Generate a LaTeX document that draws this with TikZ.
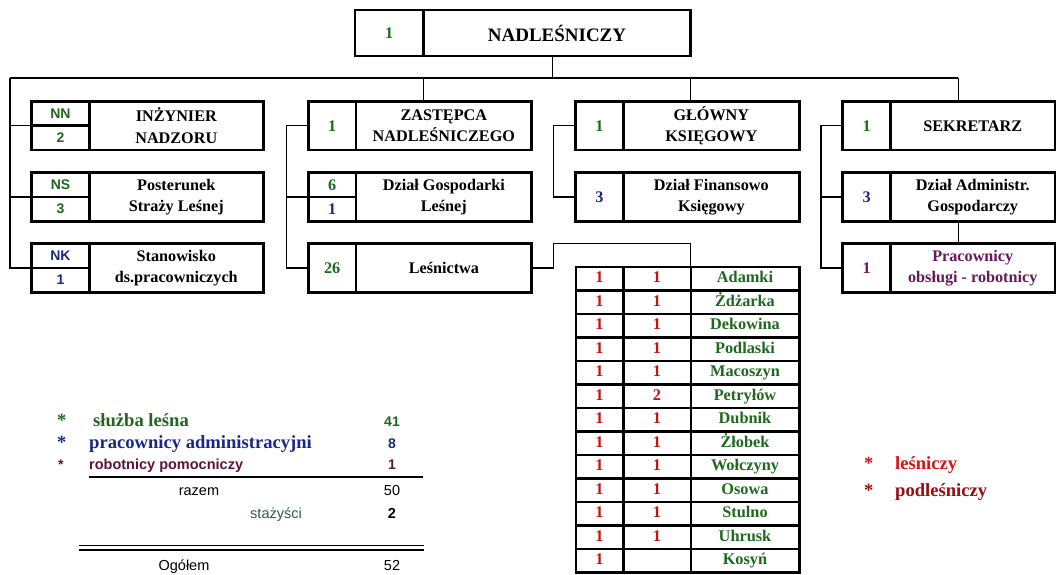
\documentclass[tikz,border=0pt]{standalone}
\usepackage{fontspec}
\setmainfont{Liberation Serif}
\setsansfont{Liberation Sans}
\usetikzlibrary{calc}
\definecolor{grn}{RGB}{30,105,30}
\definecolor{blu}{RGB}{25,40,135}
\definecolor{pur}{RGB}{105,25,90}
\definecolor{mar}{RGB}{95,20,55}
\definecolor{lred}{RGB}{215,20,20}
\definecolor{dred}{RGB}{150,15,15}
\definecolor{tgrn}{RGB}{40,95,70}
\definecolor{tred}{RGB}{195,20,20}
\newcommand{\bxf}{\fontsize{16.2}{21.5}\selectfont\bfseries}
\newcommand{\ttlf}{\fontsize{19}{22}\selectfont\bfseries}
\newcommand{\sbf}{\sffamily\fontsize{14}{16}\selectfont\bfseries}
\newcommand{\tbf}{\fontsize{16.3}{18}\selectfont\bfseries}
\newcommand{\lgs}{\fontsize{18.6}{20}\selectfont\bfseries}
\newcommand{\lgsans}{\sffamily\fontsize{14.5}{16}\selectfont}
\begin{document}
\begin{tikzpicture}[x=1pt,y=-1pt,
  cell/.style={draw, line width=2.7pt, inner sep=0pt, outer sep=0pt, align=center, font=\bxf},
  ncell/.style={cell, font=\sbf},
  tcell/.style={draw, line width=2.4pt, inner sep=0pt, outer sep=0pt, minimum height=23.5, text height=11pt, text depth=3.2pt, font=\tbf},
  conn/.style={line width=1.3pt},
  bus/.style={line width=1.9pt},
  lg/.style={inner sep=0pt, anchor=base west},
  lgn/.style={inner sep=0pt, anchor=base}]
\useasboundingbox (0,0) rectangle (1058,574);
\fill[white] (0,0) rectangle (1058,574);

% top box
\node[cell,minimum width=68.3,minimum height=46] (nadlN) at (389.15,33) {\color{grn}1};
\node[cell,minimum width=267.4,minimum height=46,font=\ttlf] (nadlT) at (557,33) {NADLEŚNICZY};

% column A
\node[ncell,minimum width=57.6,minimum height=24.25] (nnA) at (60.5,113.625) {\color{grn}NN};
\node[ncell,minimum width=57.6,minimum height=24.25] (nnB) at (60.5,137.875) {\color{grn}2};
\node[cell,minimum width=174,minimum height=48.5] (nnT) at (176.3,125.75) {INŻYNIER\\NADZORU};
\node[ncell,minimum width=57.6,minimum height=24.25] (nsA) at (60.5,184.875) {\color{grn}NS};
\node[ncell,minimum width=57.6,minimum height=24.25] (nsB) at (60.5,209.125) {\color{grn}3};
\node[cell,minimum width=174,minimum height=48.5] (nsT) at (176.3,197) {Posterunek\\Straży Leśnej};
\node[ncell,minimum width=57.6,minimum height=24.25] (nkA) at (60.5,255.875) {\color{blu}NK};
\node[ncell,minimum width=57.6,minimum height=24.25] (nkB) at (60.5,280.125) {\color{blu}1};
\node[cell,minimum width=174,minimum height=48.5] (nkT) at (176.3,268) {Stanowisko\\ds.pracowniczych};

% column B
\node[cell,minimum width=47.7,minimum height=48.5] (zastN) at (332.15,125.75) {\color{grn}1};
\node[cell,minimum width=175.7,minimum height=48.5] (zastT) at (443.85,125.75) {ZASTĘPCA\\NADLEŚNICZEGO};
\node[cell,minimum width=47.7,minimum height=24.25] (gospA) at (332.15,184.875) {\color{grn}6};
\node[cell,minimum width=47.7,minimum height=24.25] (gospB) at (332.15,209.125) {\color{blu}1};
\node[cell,minimum width=175.7,minimum height=48.5] (gospT) at (443.85,197) {Dział Gospodarki\\Leśnej};
\node[cell,minimum width=47.7,minimum height=48.5] (lesN) at (332.15,268) {\color{grn}26};
\node[cell,minimum width=175.7,minimum height=48.5] (lesT) at (443.85,268) {Leśnictwa};

% column C
\node[cell,minimum width=47.6,minimum height=48.5] (glowN) at (599.5,125.75) {\color{grn}1};
\node[cell,minimum width=176,minimum height=48.5] (glowT) at (711.3,125.75) {GŁÓWNY\\KSIĘGOWY};
\node[cell,minimum width=47.6,minimum height=48.5] (finN) at (599.5,197) {\color{blu}3};
\node[cell,minimum width=176,minimum height=48.5] (finT) at (711.3,197) {Dział Finansowo\\Księgowy};

% column D
\node[cell,minimum width=47.8,minimum height=48.5] (sekrN) at (866.6,125.75) {\color{grn}1};
\node[cell,minimum width=164.5,minimum height=48.5] (sekrT) at (972.75,125.75) {SEKRETARZ};
\node[cell,minimum width=47.8,minimum height=48.5] (admN) at (866.6,197) {\color{blu}3};
\node[cell,minimum width=164.5,minimum height=48.5] (admT) at (972.75,197) {Dział Administr.\\Gospodarczy};
\node[cell,minimum width=47.8,minimum height=48.5] (pracN) at (866.6,268) {\color{pur}1};
\node[cell,minimum width=164.5,minimum height=48.5,text=pur] (pracT) at (972.75,268) {Pracownicy\\obsługi - robotnicy};

% table
\foreach \a/\b/\n [count=\i] in {1/1/Adamki,1/1/Żdżarka,1/1/Dekowina,1/1/Podlaski,1/1/Macoszyn,1/2/Petryłów,1/1/Dubnik,1/1/Żłobek,1/1/Wołczyny,1/1/Osowa,1/1/Stulno,1/1/Uhrusk,1//Kosyń}{
  \pgfmathsetmacro\yy{267+23.5*(\i-0.5)}
  \node[tcell,minimum width=47.6,text=tred] (ta\i) at (599.5,\yy) {\a};
  \node[tcell,minimum width=67.4,text=tred] (tb\i) at (657,\yy) {\b};
  \node[tcell,minimum width=108.6,text=grn] (tc\i) at (745,\yy) {\n};
}

% connectors
\coordinate (busL) at (10,78);
\coordinate (busR) at (958.3,78);
\coordinate (bz) at (423.3,78);
\coordinate (bg) at (690.7,78);
\draw[bus] (busL) -- (busR);
\draw[conn] ([xshift=-4.3pt]nadlT.south) -- ([xshift=-4.3pt]nadlT.south |- busL);
\draw[conn] (bz) -- (bz |- zastT.north);
\draw[conn] (bg) -- (bg |- glowT.north);
\draw[conn] (busR) -- (busR |- sekrT.north);
\draw[conn] (busL) |- (nkA.south west);
\draw[conn] (nnA.south west) -- (nnA.south west -| busL);
\draw[conn] (nsA.south west) -- (nsA.south west -| busL);
\draw[conn] (zastN.west) -- ++(-21.8,0) |- (lesN.west);
\draw[conn] (gospA.south west) -- ++(-21.8,0);
\draw[conn] (glowN.west) -- ++(-22.4,0) |- (finN.west);
\draw[conn] (lesT.east) -- ++(21.6,0) coordinate (lk) -- (lk |- lesT.north) -| (tb1.north east);
\draw[conn] (sekrN.west) -- ++(-21.7,0) |- (pracN.west);
\draw[conn] (admN.west) -- ++(-21.7,0);
\draw[conn] (admT.south -| busR) -- (pracT.north -| busR);

% legend left
\node[lg,text=grn,font=\lgs] (s1) at (57,426) {*};
\node[lg,text=grn,font=\lgs] (l1) at (93,426) {służba leśna};
\node[lgn,text=grn,font=\sbf] (n1) at (392,426) {41};
\node[lg,text=blu,font=\lgs] (s2) at (57,448) {*};
\node[lg,text=blu,font=\lgs] (l2) at (89,448) {pracownicy administracyjni};
\node[lgn,text=blu,font=\sbf] (n2) at (392,448) {8};
\node[lg,text=mar,font=\sbf] (s3) at (58,469) {*};
\node[lg,text=mar,font=\sffamily\fontsize{14.5}{16}\selectfont\bfseries] (l3) at (89,469) {robotnicy pomocniczy};
\node[lgn,text=mar,font=\sbf] (n3) at (392,469) {1};
\coordinate (lnA) at (89,477);
\coordinate (lnB) at (423,477);
\draw[line width=1.8pt] (lnA) -- (lnB);
\node[lgn,font=\lgsans] (l4) at (199,495) {razem};
\node[lgn,font=\lgsans] (n4) at (392,495) {50};
\node[lgn,text=tgrn,font=\lgsans] (l5) at (276,518) {stażyści};
\node[lgn,font=\lgsans\bfseries] (n5) at (392,518) {2};
\coordinate (dlA) at (79,545.5);
\coordinate (dlB) at (424,545.5);
\draw[line width=1.4pt] (dlA) -- (dlB);
\draw[line width=1.4pt] ($(dlA)+(0,4.5)$) -- ($(dlB)+(0,4.5)$);
\node[lgn,font=\lgsans] (l6) at (184,570) {Ogółem};
\node[lgn,font=\lgsans] (n6) at (392,570) {52};

% legend right
\node[lg,text=lred,font=\lgs] (s7) at (864,469) {*};
\node[lg,text=lred,font=\lgs] (l7) at (895,469) {leśniczy};
\node[lg,text=dred,font=\lgs] (s8) at (864,496) {*};
\node[lg,text=dred,font=\lgs] (l8) at (895,496) {podleśniczy};
\end{tikzpicture}
\end{document}
